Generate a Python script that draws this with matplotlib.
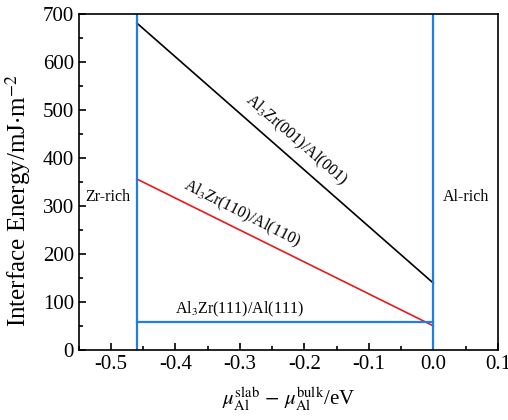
import matplotlib
matplotlib.use("Agg")
import matplotlib.pyplot as plt
import numpy as np
from matplotlib.ticker import MultipleLocator

plt.rcParams['font.family'] = ['Liberation Serif', 'DejaVu Serif']
plt.rcParams['mathtext.fontset'] = 'stix'

# chemical potential range (eV) and interface energies (mJ/m^2) at the two ends
mu_range = [-0.46, 0.0]
e_001 = [681, 139]
e_110 = [356, 50]
e_111 = [58, 58]

labels = ["Al$_3$Zr(001)/Al(001)", "Al$_3$Zr(110)/Al(110)", "Al$_3$Zr(111)/Al(111)"]

fig, ax = plt.subplots(figsize=(5.08, 4.2), dpi=100)
fig.subplots_adjust(left=0.155, right=0.98, top=0.967, bottom=0.167)

blue = '#1f7fe0'
ax.plot(mu_range, e_001, color='black', lw=1.2)
ax.plot(mu_range, e_110, color='#e8191c', lw=1.2)
ax.plot(mu_range, e_111, color=blue, lw=1.6)
for x in mu_range:
    ax.axvline(x, color=blue, lw=1.6)

ax.set_xlim(-0.55, 0.1)
ax.set_ylim(0, 700)
ax.xaxis.set_major_locator(MultipleLocator(0.1))
ax.xaxis.set_minor_locator(MultipleLocator(0.05))
ax.yaxis.set_major_locator(MultipleLocator(100))
ax.yaxis.set_minor_locator(MultipleLocator(50))
ax.tick_params(which='both', direction='in', top=False, right=False, labelsize=15, width=1.2)
ax.tick_params(which='major', length=5)
ax.tick_params(which='minor', length=3)
ax.xaxis.set_major_formatter(plt.FuncFormatter(lambda v, p: f"{v:.1f}"))
for s in ax.spines.values():
    s.set_linewidth(1.2)

ax.set_ylabel("Interface Energy/mJ$\\cdot$m$^{-2}$", fontsize=18)
ax.yaxis.set_label_coords(-0.11, 0.445)
ax.set_xlabel("$\\mu_{\\rm Al}^{\\rm slab}$ $-$ $\\mu_{\\rm Al}^{\\rm bulk}$/eV", fontsize=15, labelpad=8)

ax.text(-0.214, 437, labels[0], rotation=-41, ha='center', va='center', fontsize=11.5,
        rotation_mode='anchor')
ax.text(-0.297, 283, labels[1], rotation=-27, ha='center', va='center', fontsize=11.5,
        rotation_mode='anchor')
ax.text(-0.301, 85, labels[2], ha='center', va='center', fontsize=11.5)
ax.text(-0.505, 318, "Zr-rich", ha='center', va='center', fontsize=11.5)
ax.text(0.05, 318, "Al-rich", ha='center', va='center', fontsize=11.5)

fig.savefig("out.png", dpi=100)
